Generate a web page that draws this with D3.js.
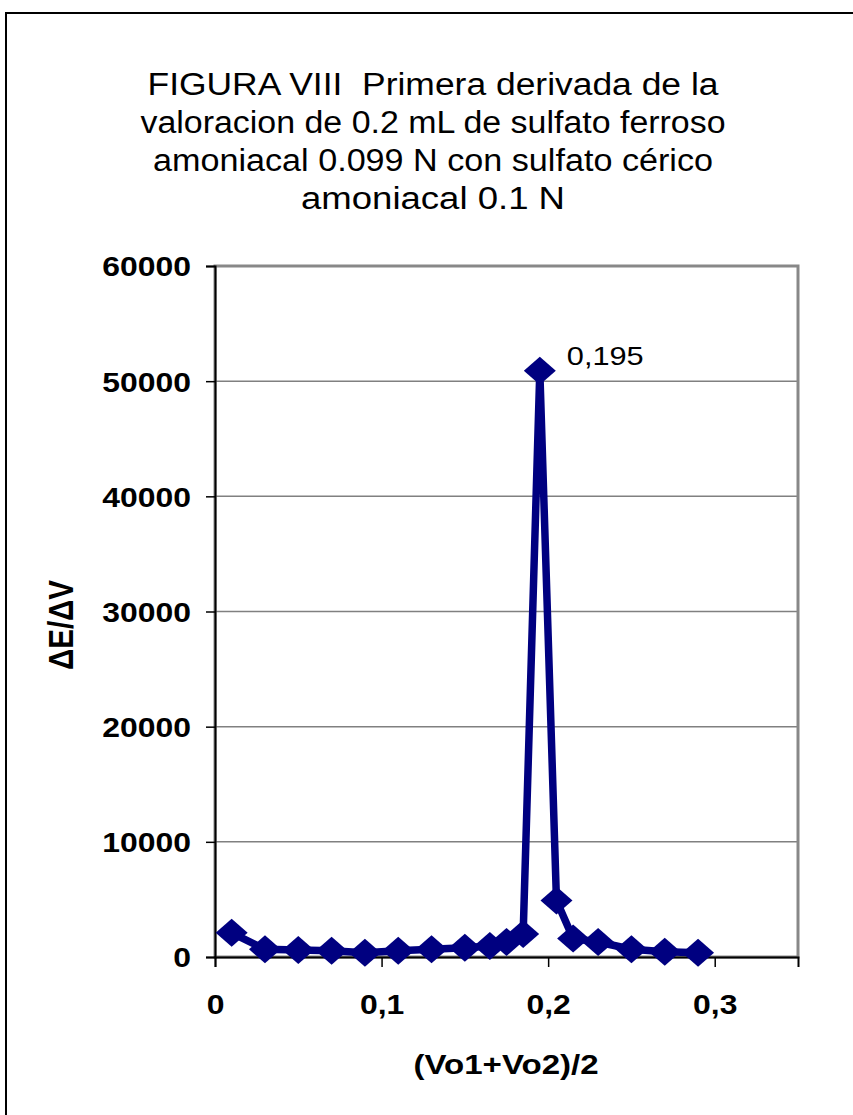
<!DOCTYPE html>
<html>
<head>
<meta charset="utf-8">
<script src="https://cdn.jsdelivr.net/npm/d3@7"></script>
<style>
  html, body { margin: 0; padding: 0; background: #fff; }
  svg { display: block; font-family: "Liberation Sans", Arial, sans-serif; }
  .title-line { white-space: pre; }
</style>
</head>
<body>
<svg id="chart" width="853" height="1115"></svg>
<script>
// First-derivative titration data: mean volume vs. ΔE/ΔV
const volumes = [0.01, 0.03, 0.05, 0.07, 0.09, 0.11, 0.13, 0.15, 0.165, 0.175, 0.185, 0.195, 0.205, 0.215, 0.23, 0.25, 0.27, 0.29];
const derivative = [2100, 670, 600, 550, 370, 550, 670, 810, 960, 1300, 2000, 50900, 4900, 1600, 1300, 670, 460, 370];
const xTicks = [0, 0.1, 0.2, 0.3];
const yTicks = [0, 10000, 20000, 30000, 40000, 50000, 60000];
const titleLines = [
  "FIGURA VIII  Primera derivada de la",
  "valoracion de 0.2 mL de sulfato ferroso",
  "amoniacal 0.099 N con sulfato cérico",
  "amoniacal 0.1 N"
];
const titleWidths = [571, 585, 560, 264];
const peakLabel = "0,195";

const svg = d3.select("#chart");
const stretch = 1.16; // horizontal text stretch

const x = d3.scaleLinear().domain([0, 0.35]).range([215, 798]);
const y = d3.scaleLinear().domain([0, 60000]).range([957, 266]);
const fmtX = v => v === 0 ? "0" : d3.format(".1f")(v).replace(".", ",");

// Outer chart frame
svg.append("rect")
  .attr("x", 6).attr("y", 13).attr("width", 900).attr("height", 1200)
  .attr("fill", "none").attr("stroke", "#000").attr("stroke-width", 2);

// Title
const title = svg.append("g");
titleLines.forEach((t, i) => {
  title.append("text")
    .attr("class", "title-line")
    .attr("x", 433)
    .attr("y", 95 + i * 38)
    .attr("text-anchor", "middle")
    .attr("font-size", 31)
    .attr("textLength", titleWidths[i])
    .attr("lengthAdjust", "spacingAndGlyphs")
    .attr("fill", "#000")
    .text(t);
});

// Gridlines
svg.append("g")
  .selectAll("line")
  .data(yTicks.filter(d => d > 0 && d < 60000))
  .join("line")
  .attr("x1", x(0)).attr("x2", x(0.35))
  .attr("y1", d => y(d)).attr("y2", d => y(d))
  .attr("stroke", "#808080").attr("stroke-width", 1.5);

// Plot area border
svg.append("rect")
  .attr("x", x(0)).attr("y", y(60000))
  .attr("width", x(0.35) - x(0)).attr("height", y(0) - y(60000))
  .attr("fill", "none").attr("stroke", "#888").attr("stroke-width", 3);

// Axes
const yAxis = d3.axisLeft(y).tickValues(yTicks).tickSize(9).tickFormat(d3.format("d"));
const xAxis = d3.axisBottom(x).tickValues(xTicks).tickSize(10).tickFormat(fmtX);

const gy = svg.append("g").attr("transform", `translate(${x(0)},0)`).call(yAxis);
const gx = svg.append("g").attr("transform", `translate(0,${y(0)})`).call(xAxis);

[gx, gy].forEach(g => {
  g.select(".domain").attr("stroke", "#000").attr("stroke-width", 2);
  g.selectAll(".tick line").attr("stroke", "#000").attr("stroke-width", 1.5);
  g.selectAll(".tick text")
    .attr("font-family", "Liberation Sans, Arial, sans-serif")
    .attr("font-weight", "bold")
    .attr("font-size", 27.5)
    .attr("fill", "#000");
});
gy.selectAll(".tick text")
  .attr("x", null).attr("dy", "0.36em")
  .attr("transform", `translate(-24,0) scale(${stretch},1)`);
gx.selectAll(".tick text")
  .attr("y", null).attr("dy", null)
  .attr("transform", `translate(0,57) scale(${stretch},1)`);

// Axis titles
svg.append("text")
  .attr("transform", `translate(506,1074) scale(${stretch},1)`)
  .attr("text-anchor", "middle")
  .attr("font-weight", "bold").attr("font-size", 28.5)
  .text("(Vo1+Vo2)/2");

svg.append("text")
  .attr("transform", `translate(73,625) rotate(-90) scale(1,${stretch})`)
  .attr("text-anchor", "middle")
  .attr("font-weight", "bold").attr("font-size", 29.5)
  .text("ΔE/ΔV");

// Series line
const pts = volumes.map((v, i) => [v, derivative[i]]);
svg.append("path")
  .datum(pts)
  .attr("fill", "none")
  .attr("stroke", "#000080")
  .attr("stroke-width", 7.5)
  .attr("stroke-linejoin", "round")
  .attr("d", d3.line().x(d => x(d[0])).y(d => y(d[1])));

// Diamond markers
svg.append("g")
  .selectAll("path")
  .data(pts)
  .join("path")
  .attr("transform", d => `translate(${x(d[0])},${y(d[1])})`)
  .attr("d", "M0,-14L16,0L0,14L-16,0Z")
  .attr("fill", "#000080");

// Peak label
const peak = pts[derivative.indexOf(d3.max(derivative))];
svg.append("text")
  .attr("transform", `translate(${x(peak[0]) + 27},${y(peak[1]) - 6}) scale(${stretch},1)`)
  .attr("font-size", 26.5)
  .text(peakLabel);
</script>
</body>
</html>
